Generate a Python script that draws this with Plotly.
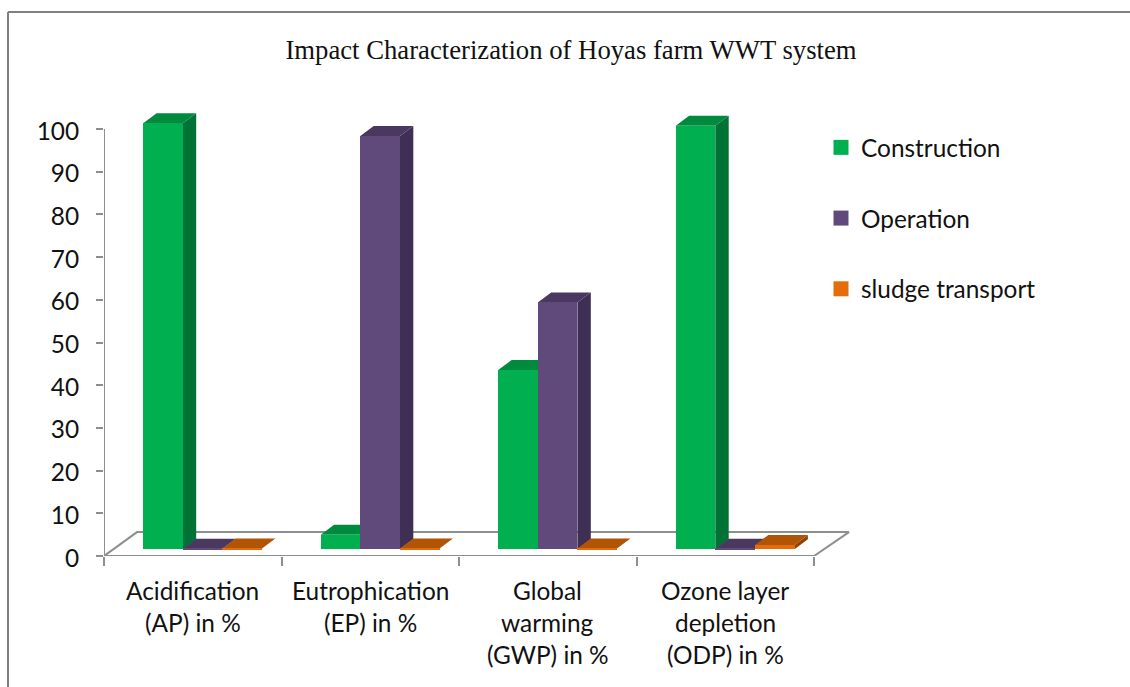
import plotly.graph_objects as go

category_lines = [["Acidification", "(AP) in %"], ["Eutrophication", "(EP) in %"],
                  ["Global", "warming", "(GWP) in %"], ["Ozone layer", "depletion", "(ODP) in %"]]
categories = ["Acidification (AP) in %", "Eutrophication (EP) in %", "Global warming (GWP) in %", "Ozone layer depletion (ODP) in %"]
construction = [99.8, 3.4, 42, 99.2]
operation = [0.1, 96.8, 57.8, 0.1]
sludge = [0.2, 0.2, 0.2, 1.0]
y_ticks = list(range(0, 101, 10))
series = [("Construction", construction, "#00B050", "#007236", "#008A3E"),
          ("Operation", operation, "#604A7B", "#3F2F55", "#4A3860"),
          ("sludge transport", sludge, "#E46C0A", "#8F4404", "#B25405")]

FONT = "Lato, Carlito, Calibri, sans-serif"
TXT = "#111111"
GRAY = "#8E8E8E"
W, H = 1130, 687
L, R, T, B = 104, 1128, 100, 556
CAT_PX, UNIT_PX = 177.5, 4.27
XMAX, YMAX = (R - L) / CAT_PX, (B - T) / UNIT_PX
BAR = 39.6 / CAT_PX
GROUP_OFF = 39.2 / CAT_PX
BASE = 6.7 / UNIT_PX
DX, DY = 13.4 / CAT_PX, 10 / UNIT_PX


def py(page_y):
    return (B - page_y) / (B - T)


def px(page_x):
    return (page_x - L) / (R - L)


fig = go.Figure()

# floor and axis lines
fig.add_trace(go.Scatter(x=[0, 0.186, 4.197, 4, 0], y=[0, 5.6, 5.6, 0, 0], mode="lines",
                         line=dict(color=GRAY, width=2), showlegend=False, hoverinfo="skip"))
fig.add_trace(go.Scatter(x=[0, 0], y=[0, 100], mode="lines",
                         line=dict(color=GRAY, width=2), showlegend=False, hoverinfo="skip"))

# 3-D side and top faces (below the fronts)
for s, (name, vals, col, side, top) in enumerate(series):
    for c, v in enumerate(vals):
        x0 = c + GROUP_OFF + s * BAR
        x1 = x0 + BAR
        y0 = BASE
        y1 = BASE + v
        fig.add_trace(go.Scatter(x=[x1, x1 + DX, x1 + DX, x1, x1], y=[y0, y0 + DY, y1 + DY, y1, y0],
                                 mode="lines", fill="toself", fillcolor=side, line=dict(width=0, color=side),
                                 showlegend=False, hoverinfo="skip"))
        fig.add_trace(go.Scatter(x=[x0, x1, x1 + DX, x0 + DX, x0], y=[y1, y1, y1 + DY, y1 + DY, y1],
                                 mode="lines", fill="toself", fillcolor=top, line=dict(width=0, color=top),
                                 showlegend=False, hoverinfo="skip"))

# front faces on an overlay axis so that they sit above the side faces
for s, (name, vals, col, side, top) in enumerate(series):
    fig.add_trace(go.Bar(x=[c + GROUP_OFF + (s + 0.5) * BAR for c in range(len(vals))], y=vals,
                         base=BASE, width=BAR, name=name, marker=dict(color=col, line=dict(width=0)),
                         xaxis="x2", yaxis="y2", showlegend=False, customdata=categories,
                         hovertemplate="%{customdata}<br>" + name + ": %{y}<extra></extra>"))

# legend
for s, (name, vals, col, side, top) in enumerate(series):
    fig.add_trace(go.Scatter(x=[None], y=[None], mode="markers", name=name, legendgroup=name,
                             marker=dict(symbol="square", size=15, color=col)))

ann = []
for c, lines in enumerate(category_lines):
    for i, line in enumerate(lines):
        ann.append(dict(x=c + 0.5, y=py(590 + 32 * i), xref="x", yref="paper", yanchor="middle",
                        text=line, showarrow=False, font=dict(family=FONT, size=24.4, color=TXT)))

fig.update_layout(
    width=W, height=H, autosize=False, paper_bgcolor="white", plot_bgcolor="white",
    margin=dict(l=L, r=W - R, t=T, b=H - B, pad=0),
    barmode="overlay", bargap=0,
    title=dict(text="Impact Characterization of Hoyas farm WWT system", x=571 / W, xanchor="center",
               y=1 - 50 / H, yanchor="middle", font=dict(family="Liberation Serif, Times New Roman, serif", size=26.7, color="#111111")),
    xaxis=dict(range=[0, XMAX], showgrid=False, zeroline=False, showline=False, tickvals=[0, 1, 2, 3, 4],
               ticktext=[""] * 5, ticks="outside", ticklen=9, tickwidth=2, tickcolor=GRAY),
    yaxis=dict(range=[0, YMAX], showgrid=False, zeroline=False, showline=False, tickvals=y_ticks,
               ticks="outside", ticklen=7, tickwidth=2, tickcolor=GRAY, ticklabelstandoff=12, ticklabelshift=2,
               tickfont=dict(family=FONT, size=24.4, color=TXT)),
    xaxis2=dict(range=[0, XMAX], overlaying="x", visible=False),
    yaxis2=dict(range=[0, YMAX], overlaying="y", visible=False),
    legend=dict(x=px(821), y=py(125), xanchor="left", yanchor="top",
                font=dict(family=FONT, size=24.4, color=TXT), tracegroupgap=36, itemwidth=30,
                bgcolor="rgba(0,0,0,0)"),
    annotations=ann,
    shapes=[
        dict(type="line", xref="paper", yref="paper", x0=px(8), x1=px(8), y0=py(12), y1=py(687),
             line=dict(color="#808080", width=2)),
        dict(type="line", xref="paper", yref="paper", x0=px(8), x1=px(1130), y0=py(12), y1=py(12),
             line=dict(color="#808080", width=2)),
    ],
)

fig.write_html("out.html", config=dict(displayModeBar=False), post_script="document.body.style.margin='0';")
